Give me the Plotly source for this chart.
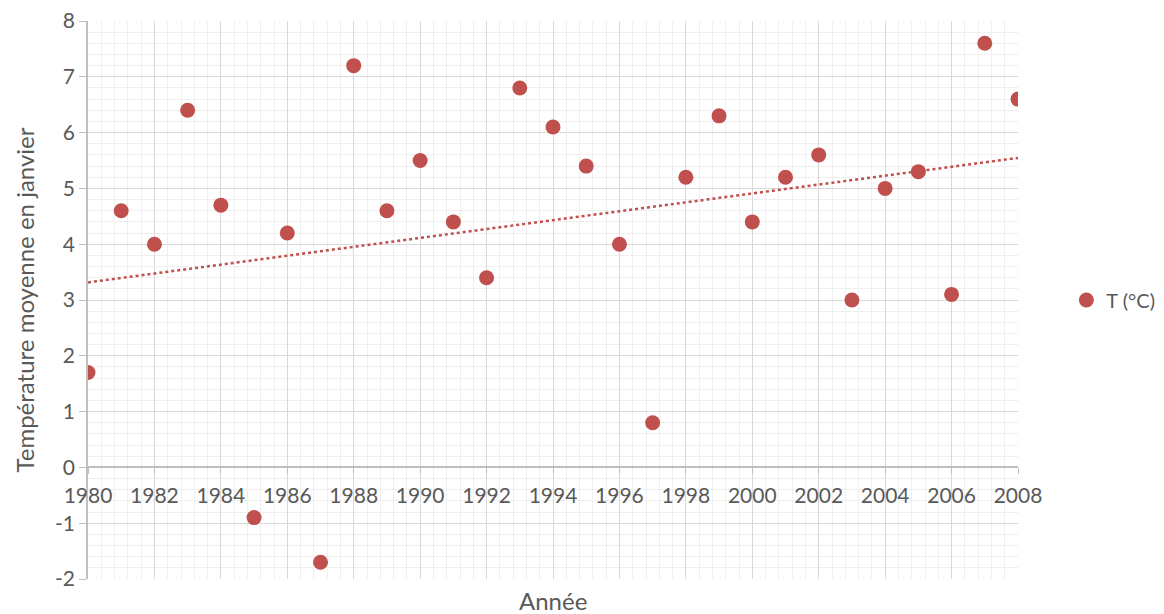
import numpy as np
import plotly.graph_objects as go

years = list(range(1980, 2009))
temps = [1.7, 4.6, 4.0, 6.4, 4.7, -0.9, 4.2, -1.7, 7.2, 4.6, 5.5, 4.4, 3.4, 6.8, 6.1,
         5.4, 4.0, 0.8, 5.2, 6.3, 4.4, 5.2, 5.6, 3.0, 5.0, 5.3, 3.1, 7.6, 6.6]
y_ticks = [-2, -1, 0, 1, 2, 3, 4, 5, 6, 7, 8]
y_ticklabels = ["-2", "-1", "0", "1", "2", "3", "4", "5", "6", "7", "8"]
series_name = "T (°C)"
x_title = "Année"
y_title = "Température moyenne en janvier"

red = "#C0504D"
txt = "#595959"
font_family = "Lato, 'Open Sans', sans-serif"
fs = 21
fs_title = 24

slope, intercept = np.polyfit(years, temps, 1)
trend_x = [years[0], years[-1]]
trend_y = [slope * x + intercept for x in trend_x]

fig = go.Figure()
fig.add_trace(go.Scatter(x=trend_x, y=trend_y, mode="lines",
                         line=dict(color=red, width=2.5, dash="dot"),
                         showlegend=False, hoverinfo="skip"))
fig.add_trace(go.Scatter(x=years, y=temps, mode="markers", name=series_name,
                         marker=dict(color=red, size=15)))

# page body has an 8px margin, so the figure is sized/offset to compensate
W, H = 1156, 606
l, r, t, b = 80, 146, 13, 35
fig.update_layout(
    width=W, height=H,
    margin=dict(l=l, r=r, t=t, b=b, autoexpand=False),
    paper_bgcolor="white", plot_bgcolor="white",
    font=dict(family=font_family, size=fs, color=txt),
    legend=dict(x=1.052, y=0.5, xanchor="left", yanchor="middle",
                font=dict(size=20, color=txt), itemsizing="trace"),
    xaxis=dict(range=[1980, 2008], dtick=2, tick0=1980, automargin=False,
               showgrid=True, gridcolor="#D9D9D9", gridwidth=1.3,
               minor=dict(dtick=0.4, tick0=1980, showgrid=True, gridcolor="#EFEFEF", gridwidth=1),
               anchor="free", position=0.2, ticklabeloverflow="allow",
               ticklabelstandoff=4,
               showline=True, linecolor="#BFBFBF", linewidth=1.5,
               ticks="outside", ticklen=6, tickcolor="#BFBFBF",
               zeroline=False, tickfont=dict(size=fs, color=txt)),
    yaxis=dict(range=[-2, 8], tickvals=y_ticks, ticktext=y_ticklabels, automargin=False,
               ticklabeloverflow="allow",
               showgrid=True, gridcolor="#D9D9D9", gridwidth=1.3,
               minor=dict(dtick=0.2, showgrid=True, gridcolor="#EFEFEF", gridwidth=1),
               showline=True, linecolor="#BFBFBF", linewidth=1.5,
               ticks="outside", ticklen=7, tickcolor="#BFBFBF",
               zeroline=False, tickfont=dict(size=fs, color=txt),
               title=dict(text=y_title, font=dict(size=fs_title, color=txt), standoff=14)),
    annotations=[dict(text=x_title, xref="paper", yref="paper", x=0.5, y=0,
                      yshift=-21, yanchor="middle", showarrow=False,
                      font=dict(size=fs_title, color=txt))],
)
fig.write_html("out.html")
